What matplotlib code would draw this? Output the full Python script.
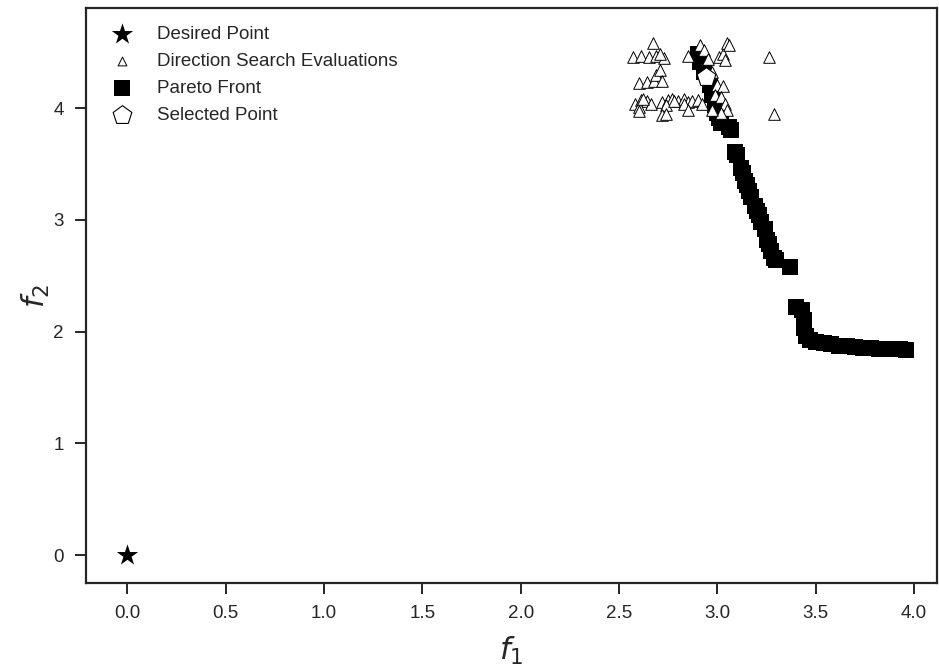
import matplotlib
matplotlib.use("Agg")
import matplotlib.pyplot as plt
import seaborn as sns

sns.set_theme(style="ticks")
plt.rcParams["font.family"] = ["Liberation Sans", "DejaVu Sans"]
plt.rcParams["mathtext.fontset"] = "dejavusans"

# Desired (utopia) point
desired_f1 = [0.0]
desired_f2 = [0.0]

# Direction search evaluations
search_f1 = [2.67, 2.57, 2.61, 2.65, 2.69, 2.73, 2.71,
             2.85, 2.91, 2.93, 2.95, 3.01, 3.03, 3.05, 3.06, 3.04, 3.26,
             2.60, 2.64, 2.68, 2.69, 2.71, 2.72,
             2.97, 3.00, 3.03,
             2.58, 2.61, 2.64, 2.66, 2.72, 2.75, 2.77, 2.80, 2.83, 2.85,
             2.87, 2.90, 2.92, 2.60, 2.62, 2.74, 2.78, 2.83,
             2.99, 3.02, 3.04, 3.05, 3.02, 2.97,
             2.60, 2.72, 2.74, 2.85, 3.29]
search_f2 = [4.58, 4.46, 4.47, 4.46, 4.47, 4.45, 4.48,
             4.47, 4.56, 4.52, 4.44, 4.46, 4.48, 4.58, 4.56, 4.43, 4.46,
             4.22, 4.23, 4.24, 4.30, 4.34, 4.24,
             4.32, 4.21, 4.20,
             4.04, 4.07, 4.06, 4.04, 4.05, 4.07, 4.08, 4.06, 4.08, 4.05,
             4.06, 4.07, 4.04, 4.01, 4.08, 4.03, 4.06, 4.04,
             4.12, 4.10, 4.04, 3.98, 3.96, 3.98,
             3.97, 3.94, 3.95, 3.98, 3.95]

# Pareto front
pareto_f1 = [2.90, 2.91, 2.93, 2.96, 2.97, 2.99, 3.00, 3.01, 3.02, 3.06, 3.07,
             3.09, 3.10, 3.12, 3.13, 3.14, 3.15, 3.16, 3.17, 3.19, 3.20,
             3.21, 3.22, 3.24, 3.25, 3.26, 3.27, 3.29, 3.30, 3.37,
             3.40, 3.43, 3.44, 3.44, 3.45, 3.47,
             3.50, 3.54, 3.58, 3.62, 3.66, 3.70, 3.74, 3.78, 3.82, 3.86,
             3.90, 3.93, 3.96]
pareto_f2 = [4.48, 4.41, 4.32, 4.21, 4.12, 4.03, 3.96, 3.91, 3.87, 3.83, 3.80,
             3.61, 3.58, 3.46, 3.42, 3.35, 3.31, 3.26, 3.20, 3.12, 3.08,
             3.04, 2.98, 2.92, 2.82, 2.78, 2.72, 2.66, 2.64, 2.58,
             2.22, 2.19, 2.10, 2.03, 1.96, 1.92,
             1.905, 1.895, 1.885, 1.875, 1.868, 1.862, 1.857, 1.852, 1.848, 1.845,
             1.842, 1.840, 1.838]

# Selected compromise point
selected_f1 = [2.94]
selected_f2 = [4.28]

fig = plt.figure(figsize=(9.39, 6.69), dpi=100)
ax = fig.add_axes([0.0916, 0.1286, 0.9064, 0.8594])

ax.scatter(desired_f1, desired_f2, marker="*", s=260, color="black",
           linewidths=0, label="Desired Point", zorder=3)
ax.scatter(search_f1, search_f2, marker="^", s=70, facecolors="white",
           edgecolors="black", linewidths=0.7,
           label="Direction Search Evaluations", zorder=4)
ax.scatter(pareto_f1, pareto_f2, marker="s", s=130, color="black",
           linewidths=0, label="Pareto Front", zorder=2)
ax.scatter(selected_f1, selected_f2, marker="p", s=200, facecolors="white",
           edgecolors="black", linewidths=0.8, label="Selected Point", zorder=5)

ax.set_xlim(-0.21, 4.117)
ax.set_ylim(-0.25, 4.895)
ax.set_xticks([0.0, 0.5, 1.0, 1.5, 2.0, 2.5, 3.0, 3.5, 4.0])
ax.set_yticks([0, 1, 2, 3, 4])
ax.tick_params(labelsize=13.5, length=8, width=1.4, pad=8,
               colors="#262626")
for sp in ax.spines.values():
    sp.set_linewidth(1.6)
    sp.set_color("#262626")

ax.set_xlabel("$f_1$", fontsize=22, color="#262626", labelpad=9)
ax.set_ylabel("$f_2$", fontsize=22, color="#262626", labelpad=1)

leg = ax.legend(loc="upper left", frameon=False, fontsize=13.5,
                borderaxespad=0.5, handletextpad=0.9, labelspacing=0.53,
                bbox_to_anchor=(0.0, 0.999))
leg.legend_handles[1].set_sizes([40])

fig.savefig("out.png", dpi=100)
